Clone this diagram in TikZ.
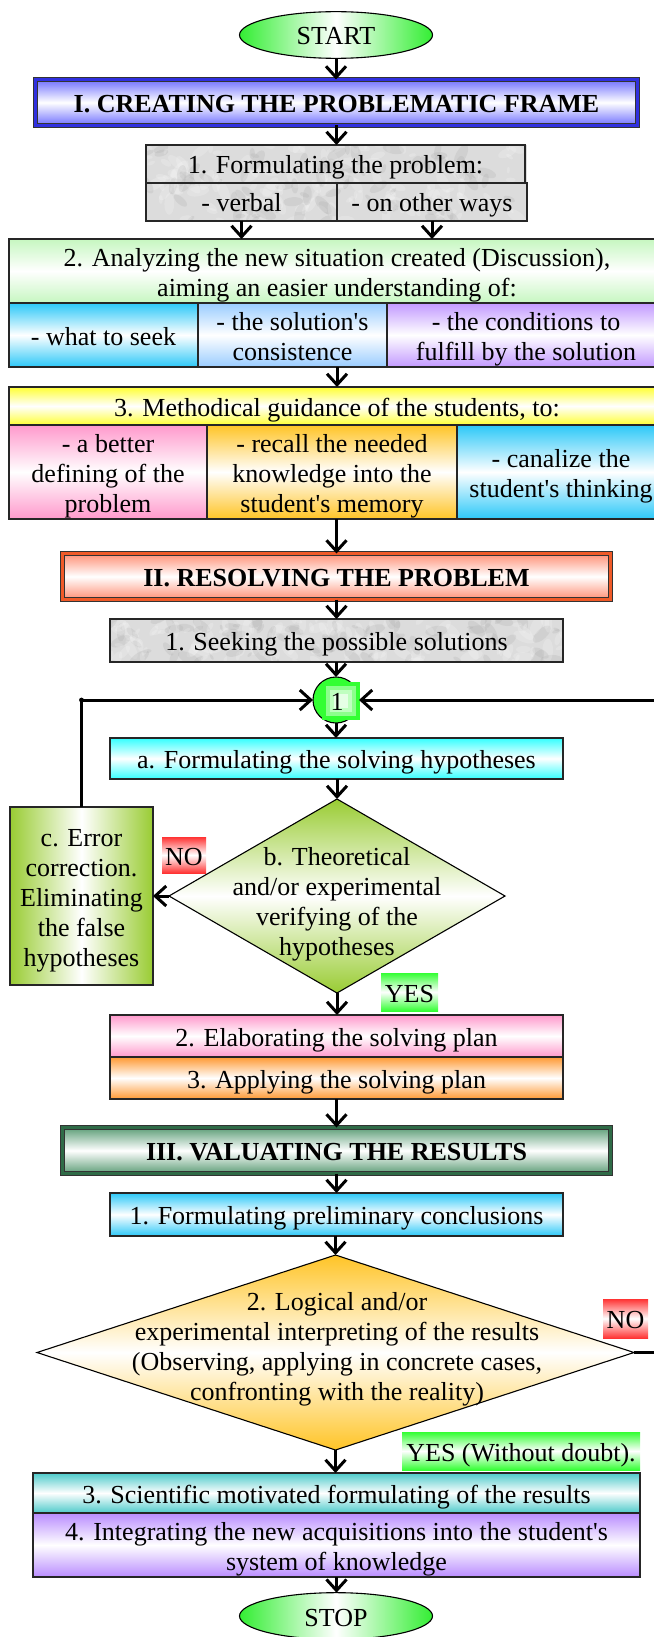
\documentclass[tikz,border=0pt]{standalone}
\usepackage{fontspec}
\setmainfont{Liberation Serif}[Ligatures=TeXOff]
\usetikzlibrary{arrows.meta,shapes.geometric,calc}
\definecolor{sgreen}{HTML}{33EE33}
\definecolor{tblue}{HTML}{7070FF}
\definecolor{tblueb}{HTML}{3030E0}
\definecolor{lgreen}{HTML}{C6F7C0}
\definecolor{cyanA}{HTML}{2CC8F8}
\definecolor{lblue}{HTML}{99CCFF}
\definecolor{lpurp}{HTML}{C299FF}
\definecolor{yelA}{HTML}{FFFF33}
\definecolor{pinkA}{HTML}{FF99CC}
\definecolor{goldA}{HTML}{FFC426}
\definecolor{salm}{HTML}{FF8F75}
\definecolor{orred}{HTML}{F05A28}
\definecolor{aquaA}{HTML}{33FFFF}
\definecolor{ygreen}{HTML}{99CC33}
\definecolor{orngA}{HTML}{FF9933}
\definecolor{dgreen}{HTML}{2F6B47}
\definecolor{mgreen}{HTML}{5E9E78}
\definecolor{cteal}{HTML}{4DCACA}
\definecolor{purpB}{HTML}{B98CFF}
\definecolor{redA}{HTML}{FF3333}
\definecolor{greenA}{HTML}{33FF33}
\definecolor{mbase}{HTML}{DCDCDC}
\newcommand\fs{\rule[-6.5pt]{0pt}{33pt}}
\newcommand\marblebg[5]{%
  \fill[mbase] (#1,#2) rectangle (#3,#4);
  \begin{scope}
  \clip (#1,#2) rectangle (#3,#4);
  \pgfmathsetseed{#5}
  \foreach \k in {1,...,220}{%
    \pgfmathsetmacro\mx{#1+(#3-#1)*rnd}%
    \pgfmathsetmacro\my{#2+(#4-#2)*rnd}%
    \pgfmathsetmacro\mr{3+9*rnd}%
    \pgfmathsetmacro\ma{360*rnd}%
    \pgfmathsetmacro\mc{rnd}%
    \ifdim\mc pt<0.4pt \def\mcol{gray!75}\else\def\mcol{white}\fi
    \fill[\mcol, opacity=0.18, rotate around={\ma:(\mx,\my)}] (\mx,\my) ellipse [x radius=\mr, y radius=\mr*0.45];
  }
  \end{scope}}
\begin{document}
\begin{tikzpicture}[x=1pt,y=-1pt,
  every node/.style={font=\fontsize{26}{30}\selectfont, align=center, inner sep=0pt, outer sep=0pt,
    execute at end node={\fs}},
  bx/.style={draw=black!85, line width=1.1pt, rectangle},
  vband/.style={top color=#1, bottom color=#1, middle color=white},
  hband/.style={left color=#1, right color=#1, middle color=white},
  ttl/.style={rectangle, draw=black!80, line width=0.8pt, double=#1, double distance=3.4pt, font=\fontsize{26}{30}\selectfont\bfseries},
  lbl/.style={rectangle, top color=#1, bottom color=#1, middle color=white},
  conn/.style={line width=3pt, -{Straight Barb[length=11pt,width=20pt]}}
]
\useasboundingbox (0,0) rectangle (653,1637);
\fill[white] (0,0) rectangle (653,1637);

% ---- Part I
\node[ellipse, draw=black, line width=1.1pt, minimum width=193, minimum height=40, hband=sgreen] (start) at (336,35) {START};
\node[ttl=tblueb, vband=tblue, minimum width=602, minimum height=46] (t1) at (336.5,102.5) {I. CREATING THE PROBLEMATIC FRAME};

\marblebg{146}{145}{527}{221}{3}
\node[bx, minimum width=379, minimum height=38] (f1) at (335.5,164) {1. Formulating the problem:};
\node[bx, minimum width=191, minimum height=38] (f1a) at (241.5,202) {- verbal};
\node[bx, minimum width=190, minimum height=38] (f1b) at (432,202) {- on other ways};

\node[bx, vband=lgreen, minimum width=656, minimum height=64] (a2) at (337,271) {\fs 2. Analyzing the new situation created (Discussion),\\aiming an easier understanding of:};
\node[bx, vband=cyanA, minimum width=189, minimum height=64] (s1) at (103.5,335) {- what to seek};
\node[bx, vband=lblue, minimum width=189, minimum height=64] (s2) at (292.5,335) {\fs - the solution's\\consistence};
\node[bx, vband=lpurp, minimum width=278, minimum height=64] (s3) at (526,335) {\fs - the conditions to\\fulfill by the solution};

\node[bx, vband=yelA, minimum width=656, minimum height=38] (m3) at (337,406) {3. Methodical guidance of the students, to:};
\node[bx, vband=pinkA, minimum width=198, minimum height=94] (p1) at (108,472) {\fs - a better\\defining of the\\problem};
\node[bx, vband=goldA, minimum width=250, minimum height=94] (p2) at (332,472) {\fs - recall the needed\\knowledge into the\\student's memory};
\node[bx, vband=cyanA, minimum width=208, minimum height=94] (p3) at (561,472) {\fs - canalize the\\student's thinking};

% ---- Part II
\node[ttl=orred, vband=salm, minimum width=548, minimum height=46] (t2) at (336.5,576.5) {II. RESOLVING THE PROBLEM};
\marblebg{110}{619}{563}{662}{11}
\node[bx, minimum width=453, minimum height=43] (seek) at (336.5,640.5) {1. Seeking the possible solutions};

\node[circle, draw=black, line width=1.1pt, minimum size=46, fill=greenA] (c1) at (336,700) {};
\fill[greenA] (322,682) rectangle (360,720);
\fill[green!45!white] (326,686) rectangle (356,716);
\fill[green!25!white] (330,690) rectangle (352,712);
\fill[green!10!white] (334,694) rectangle (348,708);
\node (c1t) at (337,700) {1};

\node[bx, vband=aquaA, minimum width=453, minimum height=41] (ha) at (336.5,758.5) {a. Formulating the solving hypotheses};
\node[diamond, draw=black, line width=1.1pt, vband=ygreen, minimum width=336, minimum height=194] (db) at (337,896) {};
\node (dbt) at (337,900) {\fs b. Theoretical\\and/or experimental\\verifying of the\\hypotheses};
\node[bx, hband=ygreen, minimum width=143, minimum height=178] (ec) at (81.5,896) {\fs c. Error\\correction.\\Eliminating\\the false\\hypotheses};
\node[lbl=redA, minimum width=44, minimum height=36] (no1) at (184,855) {NO};
\node[lbl=greenA, minimum width=57, minimum height=38] (yes1) at (409.5,992) {YES};

\node[bx, vband=pinkA, minimum width=453, minimum height=42] (el) at (336.5,1036) {2. Elaborating the solving plan};
\node[bx, vband=orngA, minimum width=453, minimum height=42] (ap) at (336.5,1078) {3. Applying the solving plan};

% ---- Part III
\node[ttl=dgreen, vband=mgreen, minimum width=548, minimum height=46] (t3) at (336.5,1150.5) {III. VALUATING THE RESULTS};
\node[bx, vband=cyanA, minimum width=453, minimum height=43] (pc) at (336.5,1214.5) {1. Formulating preliminary conclusions};
\node[diamond, draw=black, line width=1.1pt, vband=goldA, minimum width=597, minimum height=195] (d2) at (335.5,1352.5) {};
\node (d2t) at (337,1345) {\fs 2. Logical and/or\\experimental interpreting of the results\\(Observing, applying in concrete cases,\\confronting with the reality)};
\node[lbl=redA, minimum width=45, minimum height=39] (no2) at (625.5,1318.5) {NO};
\node[lbl=greenA, minimum width=238, minimum height=38] (yes2) at (521,1451) {YES (Without doubt).};
\node[bx, vband=cteal, minimum width=607, minimum height=40] (sc) at (336.5,1493) {3. Scientific motivated formulating of the results};
\node[bx, vband=purpB, minimum width=607, minimum height=64] (ig) at (336.5,1545) {\fs 4. Integrating the new acquisitions into the student's\\system of knowledge};
\node[ellipse, draw=black, line width=1.1pt, minimum width=193, minimum height=40, hband=sgreen] (stop) at (336,1616) {STOP};

% ---- connectors
\draw[conn] (start.south) -- (start.south |- t1.north);
\draw[conn] (t1.south) -- (t1.south |- f1.north);
\draw[conn] (f1a.south) -- (f1a.south |- a2.north);
\draw[conn] (f1b.south) -- (f1b.south |- a2.north);
\draw[conn] (m3.north |- s2.south) -- (m3.north);
\draw[conn] (t2.north |- p2.south) -- (t2.north);
\draw[conn] (t2.south) -- (t2.south |- seek.north);
\draw[conn] (c1.north |- seek.south) -- (c1.north);
\draw[conn] (c1.south) -- (c1.south |- ha.north);
\draw[conn] (db.north |- ha.south) -- (db.north);
\draw[conn] (db.west) -- (db.west -| ec.east);
\draw[conn] (db.south) -- (db.south |- el.north);
\draw[conn] (ap.south) -- (ap.south |- t3.north);
\draw[conn] (t3.south) -- (t3.south |- pc.north);
\draw[conn] (d2.north |- pc.south) -- (d2.north);
\draw[conn] (d2.south) -- (d2.south |- sc.north);
\draw[conn] (ig.south) -- (ig.south |- stop.north);
\draw[conn] (ec.north) -- (ec.north |- c1.west) -- (c1.west);
\fill (ec.north |- c1.west) circle (2.4);
\coordinate (rx) at (664,700);
\draw[conn] (d2.east) -- (d2.east -| rx) -- (rx |- c1.east) -- (c1.east);
\end{tikzpicture}
\end{document}
